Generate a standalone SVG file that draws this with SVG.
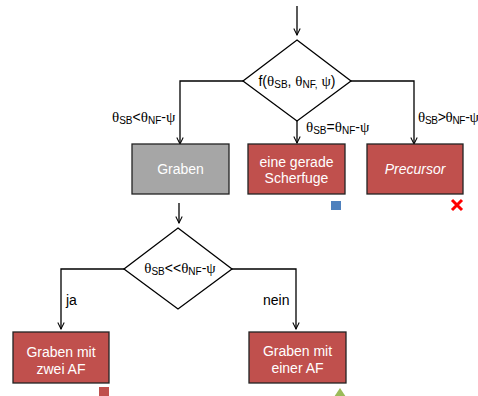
<svg xmlns="http://www.w3.org/2000/svg" width="478" height="396" viewBox="0 0 478 396">
<defs>
<marker id="ah" viewBox="0 0 10 10" refX="9" refY="5" markerWidth="8" markerHeight="8" orient="auto" markerUnits="userSpaceOnUse">
<path d="M1,1 L9,5 L1,9" fill="none" stroke="#000" stroke-width="1.3"/>
</marker>
<style>
.ln{fill:none;stroke:#000;stroke-width:1.3}
.dia{fill:#fff;stroke:#000;stroke-width:1.3}
.red{fill:#c0504d;stroke:#222;stroke-width:1.3}
.gray{fill:#a6a6a6;stroke:#222;stroke-width:1.3}
.bt{font-family:"Liberation Sans",Arial,sans-serif;font-size:14px;fill:#fff;text-anchor:middle}
.lb{font-family:"Liberation Sans",Arial,sans-serif;font-size:14px;fill:#000}
.sym{font-family:"Liberation Serif","Times New Roman",serif;font-size:15px}
.sub{font-size:10px}
</style>
</defs>
<g id="connectors">
<line class="ln" x1="297" y1="6" x2="297" y2="35" marker-end="url(#ah)"/>
<polyline class="ln" points="243,81 180,81 180,144" marker-end="url(#ah)"/>
<line class="ln" x1="297" y1="121" x2="297" y2="143" marker-end="url(#ah)"/>
<polyline class="ln" points="351,81 414,81 414,144" marker-end="url(#ah)"/>
<line class="ln" x1="179" y1="203" x2="179" y2="223" marker-end="url(#ah)"/>
<polyline class="ln" points="124,269 61,269 61,329" marker-end="url(#ah)"/>
<polyline class="ln" points="232,269 296,269 296,329" marker-end="url(#ah)"/>
<text class="lb" x="112" y="122"><tspan class="sym">θ</tspan><tspan class="sub" dy="2">SB</tspan><tspan dy="-2">&lt;</tspan><tspan class="sym">θ</tspan><tspan class="sub" dy="2">NF</tspan><tspan dy="-2">-</tspan><tspan class="sym">ψ</tspan></text>
<text class="lb" x="306" y="132"><tspan class="sym">θ</tspan><tspan class="sub" dy="2">SB</tspan><tspan dy="-2">=</tspan><tspan class="sym">θ</tspan><tspan class="sub" dy="2">NF</tspan><tspan dy="-2">-</tspan><tspan class="sym">ψ</tspan></text>
<text class="lb" x="418" y="122" letter-spacing="-0.3"><tspan class="sym">θ</tspan><tspan class="sub" dy="2">SB</tspan><tspan dy="-2">&gt;</tspan><tspan class="sym">θ</tspan><tspan class="sub" dy="2">NF</tspan><tspan dy="-2">-</tspan><tspan class="sym">ψ</tspan></text>
<text class="lb" x="66" y="305">ja</text>
<text class="lb" x="263" y="305">nein</text>
</g>
<g id="decision1">
<polygon class="dia" points="297,40 351,81 297,121 243,81"/>
<text class="lb" x="297" y="86" text-anchor="middle">f(<tspan class="sym">θ</tspan><tspan class="sub" dy="2">SB</tspan><tspan dy="-2">, </tspan><tspan class="sym">θ</tspan><tspan class="sub" dy="2">NF,</tspan><tspan dy="-2"> </tspan><tspan class="sym">ψ</tspan>)</text>
</g>
<g id="graben">
<rect class="gray" x="132" y="144" width="97" height="50"/>
<text class="bt" x="180.5" y="174">Graben</text>
</g>
<g id="scherfuge">
<rect class="red" x="248" y="144" width="97" height="50"/>
<text class="bt" x="296.5" y="167">eine gerade</text>
<text class="bt" x="296.5" y="183">Scherfuge</text>
<rect x="331" y="201" width="10" height="9" fill="#4f81bd"/>
</g>
<g id="precursor">
<rect class="red" x="367" y="144" width="96" height="50"/>
<text class="bt" x="415" y="174" font-style="italic">Precursor</text>
<path d="M452,200 L462,210 M462,200 L452,210" stroke="#ff0000" stroke-width="3"/>
</g>
<g id="decision2">
<polygon class="dia" points="178,228 232,269 178,309 124,269"/>
<text class="lb" x="180" y="273" text-anchor="middle"><tspan class="sym">θ</tspan><tspan class="sub" dy="2">SB</tspan><tspan dy="-2">&lt;&lt;</tspan><tspan class="sym">θ</tspan><tspan class="sub" dy="2">NF</tspan><tspan dy="-2">-</tspan><tspan class="sym">ψ</tspan></text>
</g>
<g id="zweiAF">
<rect class="red" x="13" y="332" width="96" height="51"/>
<text class="bt" x="61" y="357">Graben mit</text>
<text class="bt" x="61" y="374">zwei AF</text>
<rect x="99" y="387" width="10" height="9" fill="#c0504d"/>
</g>
<g id="einerAF">
<rect class="red" x="249" y="332" width="97" height="51"/>
<text class="bt" x="297.5" y="356">Graben mit</text>
<text class="bt" x="297.5" y="373">einer AF</text>
<polygon points="340,388 346,397 334,397" fill="#9bbb59"/>
</g>
</svg>
